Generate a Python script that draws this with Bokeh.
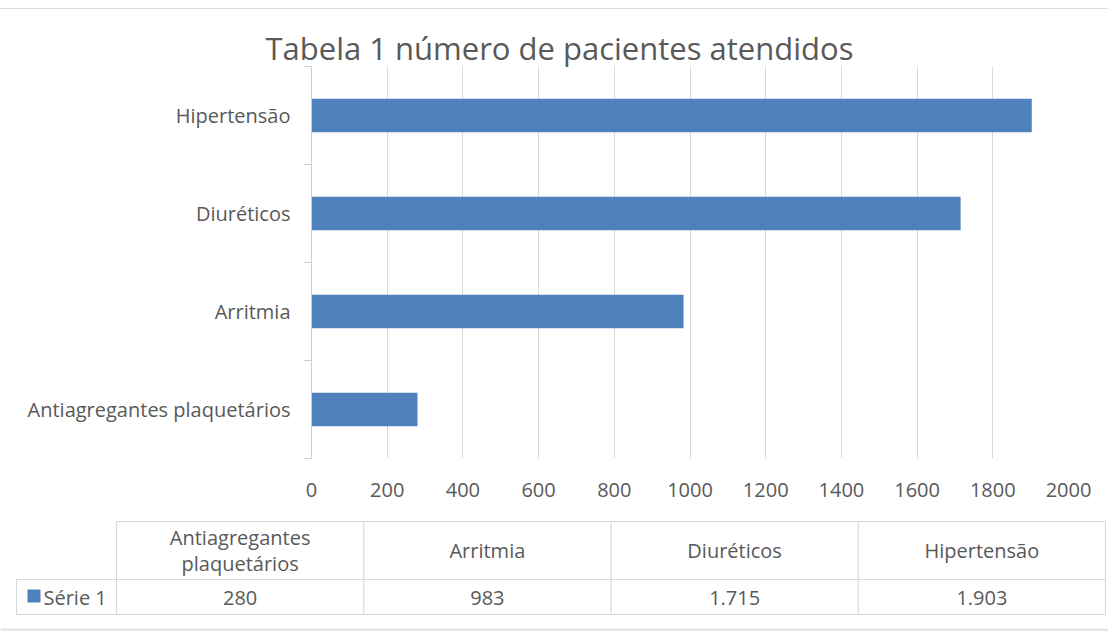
from bokeh.plotting import figure
from bokeh.layouts import column
from bokeh.models import Range1d, FixedTicker
from bokeh.core.properties import value
from bokeh.embed import file_html
from bokeh.resources import INLINE

# ---- data ----
categories = ["Antiagregantes plaquetários", "Arritmia", "Diuréticos", "Hipertensão"]
header_labels = ["Antiagregantes\nplaquetários", "Arritmia", "Diuréticos", "Hipertensão"]
series_name = "Série 1"
values = [280, 983, 1715, 1903]
x_ticks = [0, 200, 400, 600, 800, 1000, 1200, 1400, 1600, 1800, 2000]
title_text = "Tabela 1 número de pacientes atendidos"

FONT = "Open Sans"
TXT = "#595959"
GRID = "#d9d9d9"
BAR = "#4f81bd"
W = 1108

# ---- bar chart ----
ypos = [i + 0.5 for i in range(len(categories))]
p = figure(width=W, height=501, output_backend="svg", toolbar_location=None,
           x_range=Range1d(0, 2000), y_range=Range1d(0, len(categories)),
           min_border_left=311, min_border_right=40, min_border_top=57,
           min_border_bottom=52, title=title_text,
           styles={"margin-top": "8px", "border-top": "1px solid #dcdcdc"})
p.frame_align = False
p.title.text_font = FONT
p.title.text_font_size = "31px"
p.title.text_font_style = "normal"
p.title.text_color = TXT
p.title.align = "left"
p.title.offset = -46
p.title.standoff = -4
p.outline_line_color = None
p.background_fill_color = "white"
p.border_fill_color = "white"

p.hbar(y=ypos, right=values, left=0, height=0.34, fill_color=BAR, line_color=None)

p.xaxis.ticker = FixedTicker(ticks=x_ticks)
p.xaxis.axis_line_color = None
p.xaxis.major_tick_line_color = None
p.xaxis.minor_tick_line_color = None
p.xaxis.major_label_text_font = FONT
p.xaxis.major_label_text_font_size = "20px"
p.xaxis.major_label_text_color = TXT
p.xaxis.major_label_standoff = 18

p.yaxis.ticker = FixedTicker(ticks=ypos, minor_ticks=list(range(len(categories) + 1)))
p.yaxis.major_label_overrides = {y: c for y, c in zip(ypos, categories)}
p.yaxis.axis_line_color = "#cfcfcf"
p.yaxis.major_tick_line_color = None
p.yaxis.minor_tick_line_color = "#cfcfcf"
p.yaxis.minor_tick_in = 0
p.yaxis.minor_tick_out = 8
p.yaxis.major_label_text_font = FONT
p.yaxis.major_label_text_font_size = "20px"
p.yaxis.major_label_text_color = TXT
p.yaxis.major_label_standoff = 13

p.xgrid.ticker = FixedTicker(ticks=x_ticks)
p.xgrid.grid_line_color = GRID
p.ygrid.grid_line_color = None

# ---- data table below ----
H2 = 122
t = figure(width=W, height=H2, output_backend="svg", toolbar_location=None,
           x_range=Range1d(0, W), y_range=Range1d(H2, 0),
           min_border=0, min_border_left=0, min_border_right=0,
           min_border_top=0, min_border_bottom=0)
t.frame_align = False
t.axis.visible = False
t.grid.visible = False
t.outline_line_color = None

left_edge, first_col, right_edge = 16, 116, 1105
top_y, mid_y, bot_y = 12, 70, 105
n = len(categories)
colw = (right_edge - first_col) / n
col_edges = [first_col + i * colw for i in range(n + 1)]
col_centers = [first_col + (i + 0.5) * colw for i in range(n)]

# horizontal lines
t.segment(x0=[first_col, left_edge, left_edge], y0=[top_y, mid_y, bot_y],
          x1=[right_edge, right_edge, right_edge], y1=[top_y, mid_y, bot_y],
          line_color=GRID, line_width=1.2)
# vertical lines
t.segment(x0=[left_edge] + col_edges, y0=[mid_y] + [top_y] * (n + 1),
          x1=[left_edge] + col_edges, y1=[bot_y] * (n + 2),
          line_color=GRID, line_width=1.2)
# bottom page band
t.quad(left=0, right=W, top=119, bottom=H2, fill_color="#e6e6e6", line_color=None)

t.text(x=col_centers, y=[(top_y + mid_y) / 2] * n, text=header_labels,
       text_font=value(FONT), text_font_size="20px", text_color=TXT,
       text_align="center", text_baseline="middle", text_line_height=0.95)

fmt = [f"{v:,}".replace(",", ".") for v in values]
t.text(x=col_centers, y=[(mid_y + bot_y) / 2 + 0.5] * n, text=fmt,
       text_font=value(FONT), text_font_size="20px", text_color=TXT,
       text_align="center", text_baseline="middle")

t.scatter(x=[33.5], y=[(mid_y + bot_y) / 2 - 1], marker="square", size=13,
          fill_color=BAR, line_color=None)
t.text(x=[43], y=[(mid_y + bot_y) / 2 + 0.5], text=[series_name],
       text_font=value(FONT), text_font_size="20px", text_color=TXT,
       text_align="left", text_baseline="middle")

layout = column(p, t, spacing=0)
open("out.html", "w").write(file_html(layout, INLINE))
